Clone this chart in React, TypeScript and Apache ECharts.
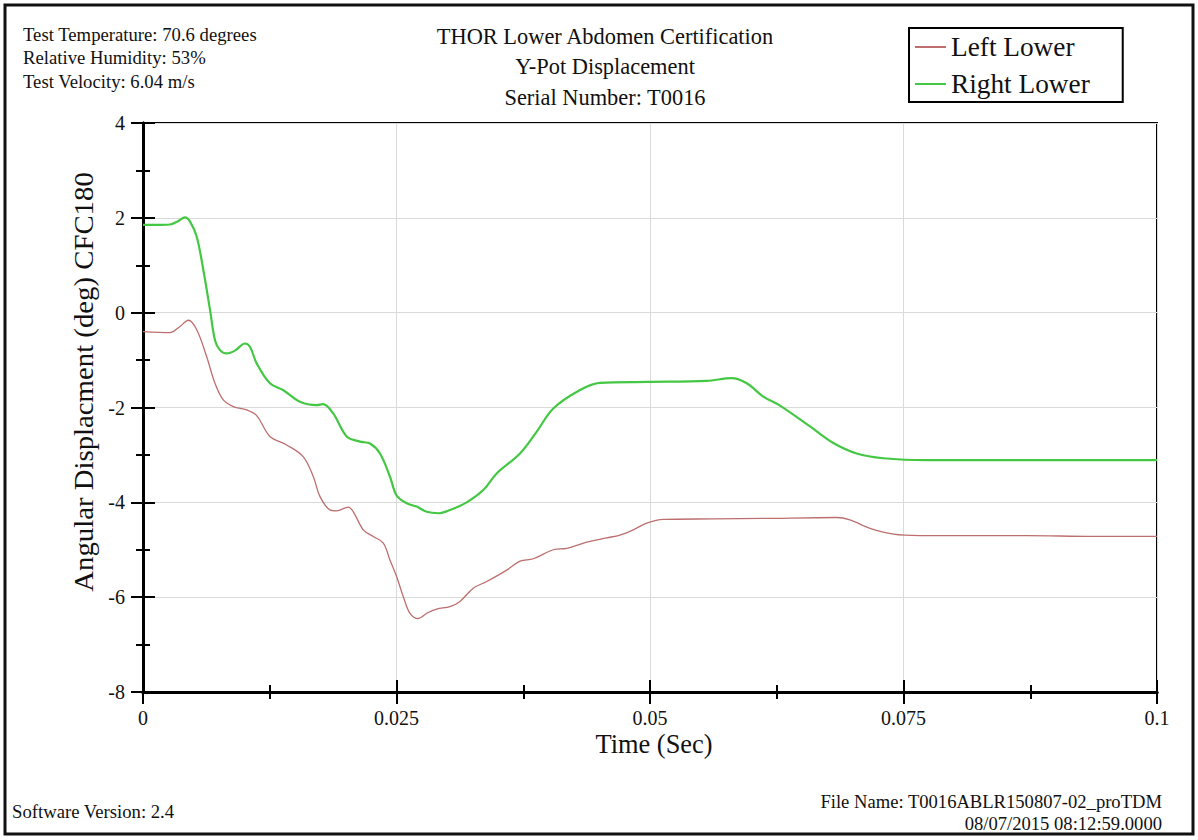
import React, { useEffect, useRef } from "react";
import * as echarts from "echarts";

// ---- data ----
const SERIES_NAMES = ["Left Lower", "Right Lower"];

const LEFT_T = [
  0, 0.00266, 0.00365, 0.00447, 0.0053, 0.00628, 0.0071, 0.00792, 0.00891, 0.01023,
  0.01121, 0.01252, 0.01417, 0.01581, 0.0168, 0.01746, 0.01844, 0.0191, 0.02025, 0.02074,
  0.02173, 0.02271, 0.0237, 0.02436, 0.02502, 0.02567, 0.02633, 0.02715, 0.02798, 0.02896,
  0.03028, 0.03126, 0.03257, 0.0339, 0.03587, 0.03718, 0.03849, 0.04046, 0.04179, 0.04376,
  0.04573, 0.04704, 0.04835, 0.04967, 0.05131, 0.05624, 0.06117, 0.06841, 0.06972, 0.0717,
  0.07399, 0.07663, 0.08715, 0.09369, 0.1,
];
const LEFT_V = [
  -0.4, -0.42, -0.29, -0.16, -0.36, -0.93, -1.49, -1.84, -1.98, -2.05,
  -2.17, -2.61, -2.79, -3.04, -3.46, -3.88, -4.16, -4.18, -4.1, -4.2,
  -4.58, -4.72, -4.86, -5.22, -5.57, -5.99, -6.34, -6.45, -6.34, -6.25,
  -6.2, -6.09, -5.81, -5.67, -5.43, -5.24, -5.19, -5.0, -4.97, -4.84,
  -4.75, -4.69, -4.58, -4.44, -4.36, -4.35, -4.34, -4.32, -4.37, -4.55,
  -4.67, -4.7, -4.7, -4.72, -4.72,
];

const RIGHT_T = [
  0, 0.00118, 0.00266, 0.00345, 0.00414, 0.00464, 0.0053, 0.00595, 0.00661, 0.0071,
  0.00759, 0.00825, 0.00907, 0.01006, 0.01055, 0.01121, 0.01252, 0.01381, 0.01548, 0.01713,
  0.01775, 0.01874, 0.02009, 0.0214, 0.02239, 0.02337, 0.02436, 0.02502, 0.02601, 0.02699,
  0.02798, 0.02912, 0.03028, 0.03192, 0.03356, 0.03488, 0.03718, 0.03883, 0.04046, 0.0431,
  0.04507, 0.04967, 0.05559, 0.05806, 0.05954, 0.06117, 0.06282, 0.06578, 0.06808, 0.07038,
  0.07301, 0.07729, 0.09043, 0.1,
];
const RIGHT_V = [
  1.85, 1.85, 1.86, 1.93, 2.01, 1.92, 1.6, 0.9, 0.06, -0.58,
  -0.79, -0.86, -0.8, -0.65, -0.72, -1.07, -1.49, -1.63, -1.88, -1.95,
  -1.93, -2.12, -2.61, -2.72, -2.76, -2.97, -3.46, -3.86, -4.02, -4.09,
  -4.2, -4.23, -4.16, -4.0, -3.74, -3.39, -2.97, -2.51, -2.02, -1.63,
  -1.48, -1.46, -1.44, -1.38, -1.49, -1.77, -1.96, -2.4, -2.75, -2.97,
  -3.07, -3.11, -3.11, -3.11,
];

const X_MIN = 0;
const X_MAX = 0.1;
const X_INTERVAL = 0.025;
const Y_MIN = -8;
const Y_MAX = 4;
const Y_INTERVAL = 2;

const TITLE_LINES = ["THOR Lower Abdomen Certification", "Y-Pot Displacement", "Serial Number: T0016"];
const INFO_LINES = ["Test Temperature: 70.6 degrees", "Relative Humidity: 53%", "Test Velocity: 6.04 m/s"];
const FILE_LINES = ["File Name: T0016ABLR150807-02_proTDM", "08/07/2015 08:12:59.0000"];
const SOFTWARE = "Software Version: 2.4";
const X_NAME = "Time (Sec)";
const Y_NAME = "Angular Displacment (deg) CFC180";

const FONT = '"Liberation Serif", "Times New Roman", serif';
const COLORS = ["#bd6f6f", "#44c844"];

function zip(t: number[], v: number[]) {
  return t.map((x, i) => [x, v[i]]);
}

export default function App() {
  const ref = useRef<HTMLDivElement>(null);
  useEffect(() => {
    if (!ref.current) return;
    const chart = echarts.init(ref.current, null, { renderer: "svg" });

    const baseX = (inside: boolean, withLabels: boolean) => ({
      type: "value",
      min: X_MIN,
      max: X_MAX,
      interval: X_INTERVAL,
      position: "bottom",
      axisLine: { show: true, onZero: false, lineStyle: { color: "#000", width: 3 } },
      axisTick: { show: true, inside, length: 12, lineStyle: { color: "#000", width: 2 } },
      minorTick: { show: true, splitNumber: 2, length: 7, lineStyle: { color: "#000", width: 2 } },
      axisLabel: {
        show: withLabels,
        margin: 16,
        color: "#111",
        fontSize: 20,
        fontFamily: FONT,
      },
      splitLine: { show: withLabels, lineStyle: { color: "#dadada", width: 1 } },
      minorSplitLine: { show: false },
    });
    const baseY = (inside: boolean, withLabels: boolean) => ({
      type: "value",
      min: Y_MIN,
      max: Y_MAX,
      interval: Y_INTERVAL,
      position: "left",
      axisLine: { show: true, onZero: false, lineStyle: { color: "#000", width: 3 } },
      axisTick: { show: true, inside, length: 12, lineStyle: { color: "#000", width: 2 } },
      minorTick: { show: true, splitNumber: 2, length: 7, lineStyle: { color: "#000", width: 2 } },
      axisLabel: {
        show: withLabels,
        margin: 18,
        color: "#111",
        fontSize: 20,
        fontFamily: FONT,
      },
      splitLine: { show: withLabels, lineStyle: { color: "#dadada", width: 1 } },
      minorSplitLine: { show: false },
    });

    const textEl = (text: string, x: number, y: number, size: number, align: string, extra: any = {}) => ({
      type: "text",
      x,
      y,
      silent: true,
      ...extra,
      style: {
        text,
        fill: "#111",
        fontSize: size,
        fontFamily: FONT,
        align,
        verticalAlign: "middle",
      },
    });

    const graphics: any[] = [
      {
        type: "rect",
        shape: { x: 5, y: 5, width: 1188, height: 829 },
        style: { fill: "none", stroke: "#111", lineWidth: 3 },
        silent: true,
      },
      ...TITLE_LINES.map((t, i) => textEl(t, 605, 36 + i * 30.5, 22.4, "center")),
      ...INFO_LINES.map((t, i) => textEl(t, 23, 34 + i * 23.5, 18.7, "left")),
      ...FILE_LINES.map((t, i) => textEl(t, 1162, 801 + i * 22.5, 18.6, "right")),
      textEl(SOFTWARE, 12, 811, 18.7, "left"),
      textEl(X_NAME, 654, 744, 26.4, "center"),
      textEl(Y_NAME, 84, 382, 26.4, "center", { rotation: Math.PI / 2, scaleX: 1.09 }),
    ];

    chart.setOption({
      animation: false,
      backgroundColor: "#fff",
      grid: {
        left: 143,
        right: 41,
        top: 123,
        bottom: 148,
        show: true,
        borderColor: "#000",
        borderWidth: 2,
        backgroundColor: "transparent",
      },
      legend: {
        data: SERIES_NAMES,
        orient: "vertical",
        left: 909,
        top: 28,
        padding: [3, 33, 2, 6],
        itemGap: 5,
        itemWidth: 31,
        itemHeight: 2,
        icon: "rect",
        borderColor: "#000",
        borderWidth: 2,
        textStyle: { fontSize: 27.3, fontFamily: FONT, color: "#111", lineHeight: 32 },
        selectedMode: false,
      },
      xAxis: [baseX(false, true), baseX(true, false)],
      yAxis: [baseY(false, true), baseY(true, false)],
      series: [
        {
          name: SERIES_NAMES[0],
          type: "line",
          xAxisIndex: 0,
          yAxisIndex: 0,
          data: zip(LEFT_T, LEFT_V),
          smooth: 0.35,
          symbol: "none",
          lineStyle: { color: COLORS[0], width: 1.3 },
          itemStyle: { color: COLORS[0] },
        },
        {
          name: SERIES_NAMES[1],
          type: "line",
          xAxisIndex: 0,
          yAxisIndex: 0,
          data: zip(RIGHT_T, RIGHT_V),
          smooth: 0.35,
          symbol: "none",
          lineStyle: { color: COLORS[1], width: 2.2 },
          itemStyle: { color: COLORS[1] },
        },
      ],
      graphic: graphics,
    });
    return () => chart.dispose();
  }, []);
  return (
    <div
      ref={ref}
      style={{ position: "fixed", left: 0, top: 0, width: 1198, height: 840, background: "#fff" }}
    />
  );
}
